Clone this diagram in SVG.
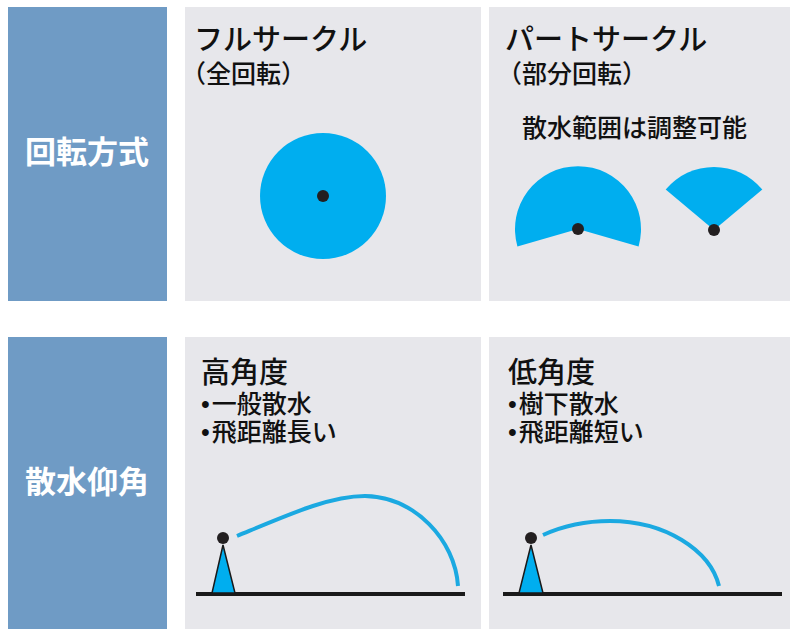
<svg xmlns="http://www.w3.org/2000/svg" width="800" height="640" viewBox="0 0 800 640">
<style>
.hdr{fill:#6f9bc5}
.pnl{fill:#e7e7eb}
.lbl{font-family:"Liberation Sans","Noto Sans CJK JP",sans-serif;font-weight:bold;font-size:31px;fill:#ffffff;text-anchor:middle}
.ttl{font-family:"Liberation Sans","Noto Sans CJK JP",sans-serif;font-weight:500;font-size:29px;fill:#111111}
.sub{font-family:"Liberation Sans","Noto Sans CJK JP",sans-serif;font-weight:500;font-size:25px;fill:#111111}
.spray{fill:#00aeef}
.dot{fill:#231f20}
.arc{fill:none;stroke:#1ba9e1;stroke-width:4}
.ground{stroke:#1a1a1a;stroke-width:4}
.tri{fill:#00aeef;stroke:#1a1a1a;stroke-width:1.5;stroke-linejoin:miter}
</style>
<rect width="800" height="640" fill="#ffffff"/>
<g id="row-rotation">
  <g id="label-rotation">
    <rect class="hdr" x="8" y="7" width="159" height="294"/>
    <text class="lbl" x="87" y="163">回転方式</text>
  </g>
  <g id="panel-full-circle">
    <rect class="pnl" x="185" y="7" width="296" height="294"/>
    <text class="ttl" x="194" y="50">フルサークル</text>
    <text class="sub" x="181" y="83">（全回転）</text>
    <circle class="spray" cx="323" cy="196" r="63"/>
    <circle class="dot" cx="323" cy="196" r="6"/>
  </g>
  <g id="panel-part-circle">
    <rect class="pnl" x="489" y="7" width="301" height="294"/>
    <text class="ttl" x="505" y="50">パートサークル</text>
    <text class="sub" x="497" y="83">（部分回転）</text>
    <text class="sub" x="522" y="137">散水範囲は調整可能</text>
    <path class="spray" d="M578,229 L517.4,246.4 A63,63 0 1 1 638.6,246.4 Z"/>
    <circle class="dot" cx="578" cy="229" r="6"/>
    <path class="spray" d="M714,230 L665.7,189.5 A63,63 0 0 1 762.3,189.5 Z"/>
    <circle class="dot" cx="714" cy="230" r="6"/>
  </g>
</g>
<g id="row-angle">
  <g id="label-angle">
    <rect class="hdr" x="8" y="337" width="159" height="292"/>
    <text class="lbl" x="87" y="493">散水仰角</text>
  </g>
  <g id="panel-high-angle">
    <rect class="pnl" x="185" y="337" width="296" height="292"/>
    <text class="ttl" x="201" y="383">高角度</text>
    <text class="sub" x="201" y="413">•<tspan dx="2">一般散水</tspan></text>
    <text class="sub" x="201" y="441">•<tspan dx="2">飛距離長い</tspan></text>
    <line class="ground" x1="196" y1="594" x2="465" y2="594"/>
    <polygon class="tri" points="223,545 212,593 235,593"/>
    <circle class="dot" cx="223" cy="538" r="6"/>
    <path class="arc" d="M237,536 C290,514 330,496 365,496 C415,497 455,540 458,586"/>
  </g>
  <g id="panel-low-angle">
    <rect class="pnl" x="489" y="337" width="301" height="292"/>
    <text class="ttl" x="508" y="383">低角度</text>
    <text class="sub" x="508" y="413">•<tspan dx="2">樹下散水</tspan></text>
    <text class="sub" x="508" y="441">•<tspan dx="2">飛距離短い</tspan></text>
    <line class="ground" x1="503" y1="594" x2="782" y2="594"/>
    <polygon class="tri" points="531,545 519,593 543,593"/>
    <circle class="dot" cx="531" cy="538" r="6"/>
    <path class="arc" d="M543,535 C565,525 585,521 610,521 C665,521 710,550 719,586"/>
  </g>
</g>
</svg>
